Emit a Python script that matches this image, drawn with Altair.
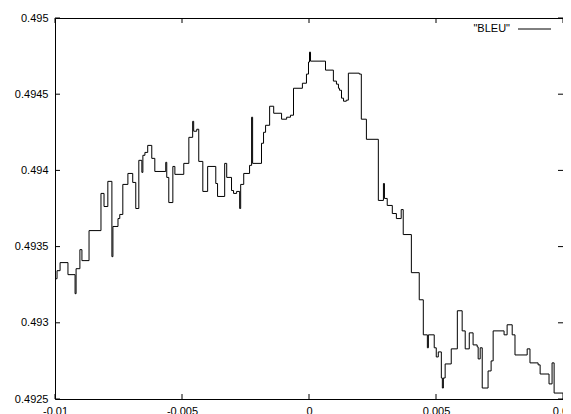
import altair as alt
import pandas as pd

# step-line data (x, BLEU)
x_vals = [
    -0.01, -0.00992, -0.00980, -0.00949, -0.00921, -0.00917, -0.00902, -0.00894, -0.00882, -0.00866,
    -0.00819, -0.00807, -0.00792, -0.00776, -0.00772, -0.00752, -0.00745, -0.00733, -0.00713, -0.00694,
    -0.00682, -0.00670, -0.00658, -0.00654, -0.00646, -0.00635, -0.00619, -0.00607, -0.00564, -0.00560,
    -0.00552, -0.00536, -0.00528, -0.00493, -0.00473, -0.00458, -0.00454, -0.00442, -0.00434, -0.00418,
    -0.00399, -0.00367, -0.00360, -0.00332, -0.00324, -0.00305, -0.00297, -0.00285, -0.00273, -0.00269,
    -0.00257, -0.00234, -0.00226, -0.00222, -0.00187, -0.00179, -0.00171, -0.00155, -0.00139, -0.00108,
    -0.00088, -0.00073, -0.00061, -0.00026, -0.00010, -0.00002, 0.00002, 0.00006, 0.00065, 0.00096,
    0.00108, 0.00116, 0.00120, 0.00128, 0.00136, 0.00147, 0.00155, 0.00198, 0.00206, 0.00226,
    0.00273, 0.00293, 0.00297, 0.00308, 0.00328, 0.00344, 0.00363, 0.00371, 0.00403, 0.00434,
    0.00450, 0.00466, 0.00470, 0.00493, 0.00501, 0.00509, 0.00521, 0.00525, 0.00529, 0.00536,
    0.00560, 0.00584, 0.00603, 0.00615, 0.00631, 0.00646, 0.00662, 0.00666, 0.00674, 0.00682,
    0.00705, 0.00717, 0.00725, 0.00768, 0.00780, 0.00800, 0.00811, 0.00859, 0.00870, 0.00902,
    0.00910, 0.00945, 0.00957, 0.00965, 0.01,
]
bleu_vals = [
    0.493289, 0.493342, 0.493395, 0.493316, 0.493191, 0.493355, 0.493480, 0.493408, 0.493408, 0.493605,
    0.493849, 0.493763, 0.493928, 0.493434, 0.493632, 0.493684, 0.493711, 0.493908, 0.493980, 0.493921,
    0.493750, 0.494066, 0.493987, 0.494099, 0.494118, 0.494164, 0.494079, 0.493993, 0.494053, 0.493954,
    0.493789, 0.494026, 0.493974, 0.494046, 0.494217, 0.494322, 0.494257, 0.494270, 0.494059, 0.493862,
    0.494026, 0.493914, 0.493829, 0.494046, 0.493954, 0.493868, 0.493849, 0.493862, 0.493750, 0.493908,
    0.493980, 0.494033, 0.494349, 0.494046, 0.494178, 0.494250, 0.494296, 0.494421, 0.494375, 0.494336,
    0.494349, 0.494362, 0.494539, 0.494572, 0.494632, 0.494711, 0.494776, 0.494717, 0.494658, 0.494586,
    0.494566, 0.494539, 0.494526, 0.494474, 0.494454, 0.494461, 0.494638, 0.494632, 0.494336, 0.494204,
    0.493803, 0.493914, 0.493816, 0.493770, 0.493717, 0.493684, 0.493743, 0.493579, 0.493329, 0.493151,
    0.492921, 0.492836, 0.492921, 0.492836, 0.492776, 0.492809, 0.492638, 0.492572, 0.492638, 0.492730,
    0.492829, 0.493079, 0.492947, 0.492829, 0.492934, 0.492855, 0.492842, 0.492763, 0.492836, 0.492572,
    0.492684, 0.492750, 0.492947, 0.492921, 0.492987, 0.492921, 0.492789, 0.492829, 0.492737, 0.492724,
    0.492664, 0.492599, 0.492737, 0.492539, 0.492533,
]

x_ticks = [-0.01, -0.005, 0, 0.005, 0.01]
y_ticks = [0.4925, 0.493, 0.4935, 0.494, 0.4945, 0.495]
series_name = '"BLEU"'

W, H = 508, 381
FONT = "Liberation Sans"

df = pd.DataFrame({"x": x_vals, "bleu": bleu_vals})
xt = pd.DataFrame({"x": x_ticks})
yt = pd.DataFrame({"y": y_ticks})

xscale = alt.Scale(domain=[-0.01, 0.01], nice=False, zero=False)
yscale = alt.Scale(domain=[0.4925, 0.495], nice=False, zero=False)

line = alt.Chart(df).mark_line(interpolate="step-after", color="black", strokeWidth=1).encode(
    x=alt.X("x:Q", scale=xscale, title=None,
            axis=alt.Axis(values=x_ticks, labelExpr="'' + datum.value", labelPadding=6,
                          labelFlush=False, labelOverlap=False)),
    y=alt.Y("bleu:Q", scale=yscale, title=None,
            axis=alt.Axis(values=y_ticks, labelExpr="'' + datum.value", labelPadding=7,
                          labelFlush=False, labelOverlap=False)),
)

tick_len = 5
xt_top = alt.Chart(xt).mark_rule(color="black", strokeWidth=1).encode(
    x=alt.X("x:Q", scale=xscale), y=alt.value(0), y2=alt.value(tick_len))
xt_bot = alt.Chart(xt).mark_rule(color="black", strokeWidth=1).encode(
    x=alt.X("x:Q", scale=xscale), y=alt.value(H - tick_len), y2=alt.value(H))
yt_left = alt.Chart(yt).mark_rule(color="black", strokeWidth=1).encode(
    y=alt.Y("y:Q", scale=yscale), x=alt.value(0), x2=alt.value(tick_len))
yt_right = alt.Chart(yt).mark_rule(color="black", strokeWidth=1).encode(
    y=alt.Y("y:Q", scale=yscale), x=alt.value(W - tick_len), x2=alt.value(W))

legend_df = pd.DataFrame({"name": [series_name]})
legend_text = alt.Chart(legend_df).mark_text(
    align="right", baseline="middle", font=FONT, fontSize=11, color="black"
).encode(text="name:N", x=alt.value(455), y=alt.value(11))
legend_line = alt.Chart(legend_df).mark_rule(color="black", strokeWidth=1).encode(
    x=alt.value(463), x2=alt.value(496), y=alt.value(11))

chart = alt.layer(line, xt_top, xt_bot, yt_left, yt_right, legend_text, legend_line).properties(
    width=W, height=H,
    autosize=alt.AutoSizeParams(type="none"),
    padding={"left": 47, "top": 10, "right": 0, "bottom": 15},
).configure_view(
    stroke="black", strokeWidth=1
).configure_axis(
    domain=False, ticks=False, grid=False,
    labelFont=FONT, labelFontSize=11, labelColor="black",
)

chart.save("out.html", embed_options={"renderer": "svg", "actions": False})
